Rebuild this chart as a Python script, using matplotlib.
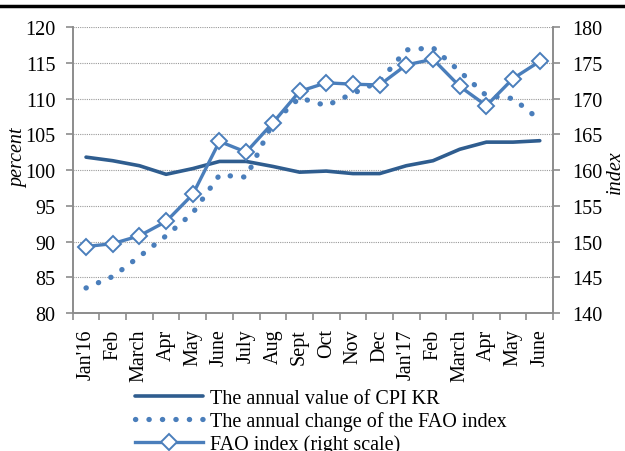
import matplotlib.pyplot as plt
import numpy as np
from matplotlib.lines import Line2D

plt.rcParams['font.family'] = ['Liberation Serif', 'DejaVu Serif']

months = ["Jan'16", "Feb", "March", "Apr", "May", "June", "July", "Aug", "Sept",
          "Oct", "Nov", "Dec", "Jan'17", "Feb", "March", "Apr", "May", "June"]
cpi_kr = [101.8, 101.3, 100.6, 99.4, 100.2, 101.2, 101.2, 100.5, 99.7,
          99.85, 99.5, 99.5, 100.6, 101.3, 102.9, 103.9, 103.9, 104.1]
fao_change = [83.5, 85.1, 87.9, 90.8, 94.0, 99.3, 99.0, 106.6, 110.1,
              109.0, 110.7, 112.4, 116.8, 117.1, 113.8, 110.4, 110.0, 107.0]
fao_index = [149.3, 149.7, 150.8, 152.8, 156.6, 164.0, 162.5, 166.6, 171.0,
             172.2, 172.0, 171.9, 174.7, 175.5, 171.7, 169.0, 172.8, 175.2]

dark_blue = '#2f5d8f'
blue = '#4a7ebb'
grey = '#8c8c8c'

fig = plt.figure(figsize=(6.25, 4.52), dpi=100)
ax = fig.add_axes([0.1163, 0.3053, 0.7687, 0.6327])
ax2 = ax.twinx()

x = np.arange(len(months))
l1, = ax.plot(x, cpi_kr, color=dark_blue, lw=2.6, solid_capstyle='round',
              label='The annual value of CPI KR')
l2, = ax.plot(x, fao_change, color=blue, lw=3.8, linestyle=(0, (0.05, 2.5)),
              dash_capstyle='round', label='The annual change of the FAO index')
l3, = ax2.plot(x, fao_index, color=blue, lw=2.4, marker='D', markersize=8,
               markerfacecolor='white', markeredgecolor=blue, markeredgewidth=1.4,
               label='FAO index (right scale)')

ax.set_xlim(-0.5, len(months) - 0.5)
ax.set_ylim(80, 120)
ax2.set_ylim(140, 180)
ax.set_yticks(np.arange(80, 121, 5))
ax2.set_yticks(np.arange(140, 181, 5))
ax.yaxis.grid(True, color='#9a9a9a', linestyle=(0, (1, 1)), lw=0.8)
ax.set_axisbelow(True)

ax.set_xticks(x)
ax.set_xticklabels(months, rotation=90, fontsize=14.5)
ax.set_xticks(np.arange(-0.5, len(months)), minor=True)
ax.tick_params(axis='x', which='major', length=0, pad=11)
ax.tick_params(axis='x', which='minor', length=5, color=grey, width=1.2)
ax.tick_params(axis='y', labelsize=14.5, length=5, color=grey, width=1.2, pad=7.5)
ax2.tick_params(axis='y', labelsize=14.5, length=5, color=grey, width=1.2, pad=9)

for a in (ax, ax2):
    a.spines['top'].set_visible(False)
    for s in ('left', 'right', 'bottom'):
        a.spines[s].set_color(grey)
        a.spines[s].set_linewidth(1.2)

fig.text(19 / 625, 1 - 158 / 452, 'percent', fontsize=14.5, style='italic',
         rotation=90, ha='center', va='center')
fig.text(615.5 / 625, 1 - 172 / 452, 'index', fontsize=14.5, style='italic',
         rotation=90, ha='center', va='center')

fig.legend(handles=[l1, l2, l3], loc='upper left', bbox_to_anchor=(0.216, 0.138),
           frameon=False, fontsize=14.5, handlelength=3.4, handletextpad=0.3,
           labelspacing=0.16, borderpad=0, borderaxespad=0)

fig.add_artist(Line2D([0, 1], [0.985, 0.985], color='black', lw=2.5,
                      transform=fig.transFigure))

fig.savefig('out.png', dpi=100)
